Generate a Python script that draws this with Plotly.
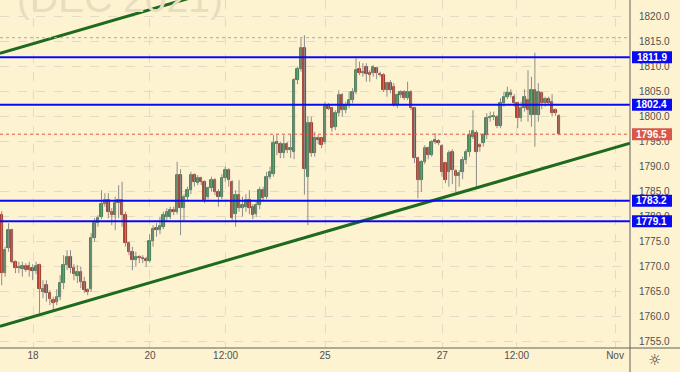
import plotly.graph_objects as go

# ---------------- data ----------------
opens = [1780.3,1768.7,1773.7,1777.3,1771.0,1769.9,1769.6,1770.2,1770.2,1769.8,
         1769.2,1770.3,1765.0,1766.3,1764.8,1763.3,1763.0,1764.0,1766.7,1770.3,
         1771.9,1769.7,1768.2,1769.0,1767.0,1765.3,1765.5,1775.7,1778.7,1780.0,
         1782.5,1783.3,1781.0,1780.3,1782.7,1783.3,1780.3,1774.7,1773.0,1771.3,
         1772.0,1771.8,1771.5,1771.2,1775.1,1777.7,1777.3,1778.0,1780.0,1780.0,
         1781.3,1781.0,1788.3,1781.7,1784.0,1785.3,1788.3,1786.7,1787.7,1787.0,
         1784.0,1785.7,1787.3,1785.0,1784.0,1787.7,1789.3,1787.0,1780.5,1784.3,
         1781.7,1782.0,1783.3,1782.0,1780.5,1782.3,1785.3,1784.0,1788.0,1788.5,
         1794.9,1794.5,1792.7,1794.5,1793.3,1793.0,1807.3,1809.5,1813.8,1788.0,
         1798.7,1792.7,1795.7,1795.7,1795.0,1802.3,1801.7,1798.0,1800.7,1804.3,
         1801.3,1802.3,1803.3,1805.0,1809.5,1808.8,1809.9,1808.8,1808.7,1809.7,
         1808.6,1808.3,1805.3,1806.7,1806.0,1802.3,1804.3,1805.0,1803.7,1805.0,
         1801.7,1791.7,1787.3,1791.0,1793.7,1792.3,1795.3,1795.1,1794.1,1790.8,
         1789.0,1793.0,1789.1,1788.1,1789.0,1791.3,1793.0,1796.0,1796.8,1794.3,
         1794.7,1796.3,1799.7,1800.0,1799.9,1798.1,1802.7,1804.0,1804.7,1804.0,
         1802.7,1799.7,1801.7,1803.3,1800.3,1805.3,1800.3,1804.7,1802.7,1803.5,
         1803.0,1801.3,1800.1]
highs = [1781.1,1774.0,1778.7,1777.6,1771.3,1771.0,1771.0,1770.7,1771.0,1770.5,
         1771.0,1770.6,1767.3,1767.3,1765.3,1764.0,1765.5,1768.3,1772.3,1773.3,
         1773.3,1770.5,1770.3,1770.0,1768.0,1765.7,1776.7,1779.7,1780.3,1785.3,
         1784.7,1784.7,1781.7,1784.0,1786.3,1787.0,1781.0,1775.0,1774.0,1773.0,
         1772.3,1772.3,1772.0,1776.5,1778.3,1778.7,1780.0,1781.0,1781.7,1782.0,
         1782.0,1791.0,1789.5,1784.5,1786.0,1789.0,1788.7,1788.3,1788.0,1787.3,
         1786.0,1788.0,1787.7,1785.5,1788.5,1790.0,1789.7,1787.3,1785.3,1787.3,
         1784.0,1784.5,1785.3,1782.5,1783.0,1786.0,1786.0,1789.0,1790.0,1796.3,
         1796.3,1795.0,1796.3,1795.0,1796.5,1807.7,1810.0,1815.7,1816.3,1800.0,
         1800.0,1797.0,1796.3,1796.0,1803.0,1802.7,1802.0,1801.3,1805.3,1804.7,
         1803.0,1805.0,1805.7,1811.7,1811.0,1810.7,1810.7,1809.3,1810.3,1810.0,
         1809.0,1808.7,1807.0,1807.3,1806.7,1804.7,1805.3,1805.3,1807.0,1805.3,
         1802.0,1792.0,1791.3,1794.3,1794.0,1795.3,1796.7,1795.5,1794.5,1791.0,
         1793.3,1793.5,1789.5,1789.3,1792.0,1793.5,1797.3,1801.3,1797.3,1794.7,
         1796.7,1800.7,1801.0,1801.0,1800.3,1803.7,1805.0,1806.0,1805.5,1804.5,
         1803.0,1803.0,1805.5,1809.3,1808.0,1812.8,1806.7,1805.0,1804.0,1804.0,
         1804.5,1801.7,1800.5]
lows = [1766.3,1768.0,1773.0,1770.7,1768.7,1768.7,1768.0,1769.0,1768.0,1767.3,
        1768.5,1760.7,1763.7,1763.0,1762.3,1761.3,1762.3,1763.3,1765.5,1769.3,
        1768.7,1767.3,1766.7,1765.7,1764.7,1764.3,1765.0,1775.0,1778.0,1779.5,
        1782.0,1779.7,1778.3,1777.3,1779.7,1778.0,1774.0,1772.3,1769.3,1770.0,
        1770.7,1770.7,1770.0,1770.8,1774.0,1776.0,1776.5,1777.5,1779.0,1779.5,
        1780.3,1780.5,1776.3,1779.3,1783.0,1784.5,1786.0,1786.3,1786.3,1782.7,
        1783.5,1785.0,1784.3,1782.0,1783.5,1787.0,1786.0,1779.3,1778.0,1781.0,
        1780.0,1781.0,1780.5,1779.5,1780.0,1781.5,1783.0,1783.5,1787.5,1788.0,
        1792.3,1791.7,1791.7,1792.7,1791.7,1791.5,1806.5,1809.0,1784.4,1778.3,
        1792.0,1792.0,1794.5,1793.7,1794.5,1801.3,1797.0,1797.3,1800.0,1800.0,
        1800.7,1801.7,1802.7,1804.5,1808.3,1808.0,1807.0,1807.0,1808.0,1807.5,
        1808.0,1805.0,1804.0,1804.7,1802.0,1801.7,1803.7,1803.3,1803.3,1801.3,
        1790.7,1783.7,1785.0,1790.5,1791.5,1792.0,1794.5,1794.3,1788.0,1786.7,
        1786.0,1786.5,1785.0,1786.0,1787.5,1790.5,1792.0,1795.5,1786.0,1793.0,
        1794.0,1795.5,1799.0,1799.3,1797.7,1797.7,1802.0,1803.5,1803.8,1802.0,
        1797.7,1799.0,1801.0,1799.0,1798.0,1794.0,1799.0,1801.5,1802.0,1802.3,
        1800.0,1800.2,1796.3]
closes = [1768.7,1773.3,1777.3,1771.0,1769.7,1769.7,1770.2,1769.4,1769.3,1769.2,
          1770.1,1765.5,1765.6,1764.7,1763.5,1762.7,1764.0,1766.7,1770.3,1771.9,
          1769.7,1768.5,1769.0,1767.0,1765.3,1765.0,1775.7,1778.7,1779.7,1782.5,
          1783.3,1781.0,1780.3,1782.7,1783.3,1780.3,1774.7,1773.0,1771.3,1772.0,
          1771.7,1771.6,1771.2,1775.1,1777.5,1777.3,1778.1,1780.3,1781.0,1781.3,
          1781.0,1788.3,1781.7,1784.0,1785.3,1788.3,1787.0,1787.7,1787.0,1783.3,
          1785.7,1787.3,1785.0,1784.0,1787.7,1789.3,1787.3,1779.7,1784.3,1781.7,
          1782.3,1783.3,1781.7,1780.3,1782.3,1785.3,1783.7,1788.0,1789.0,1794.7,
          1794.5,1792.7,1794.5,1793.3,1793.8,1807.3,1809.5,1813.8,1789.5,1798.7,
          1792.7,1795.7,1795.3,1794.3,1802.3,1801.5,1797.7,1800.7,1804.3,1801.3,
          1802.3,1803.3,1805.0,1809.3,1808.8,1808.9,1808.5,1808.3,1809.9,1808.8,
          1808.4,1805.3,1806.7,1805.3,1802.3,1804.3,1805.0,1803.7,1805.0,1801.7,
          1791.7,1787.3,1791.0,1793.7,1792.3,1795.0,1794.9,1794.8,1789.0,1787.3,
          1792.7,1789.3,1788.1,1788.8,1791.3,1793.0,1796.3,1797.2,1793.0,1793.9,
          1796.3,1799.7,1800.0,1800.1,1798.1,1802.7,1804.0,1804.7,1804.3,1802.7,
          1799.7,1801.7,1804.0,1801.3,1805.3,1800.3,1805.0,1802.7,1803.5,1802.8,
          1800.7,1800.7,1796.5]

x_tick_vals = [9.1, 43.1, 65.1, 94.0, 128.1, 149.7, 178.3]
x_tick_text = ["18", "20", "12:00", "25", "27", "12:00", "Nov"]
y_tick_vals = [1755, 1760, 1765, 1770, 1775, 1780, 1785, 1790, 1795, 1800,
               1805, 1810, 1815, 1820]

levels = [1811.9, 1802.4, 1783.2, 1779.1]      # blue horizontal levels
last_price = 1796.5
session_high = 1815.8

trend_x = [-0.5, 182.7]
trend_lower = [1758.1, 1794.7]
trend_upper = [1812.7, 1849.3]

x_range = [-0.494, 182.65]
y_range = [1753.74, 1823.34]

# ---------------- styling ----------------
BG = "#FEF3D1"
GRID = "#E2DCC6"
UP_FILL, UP_LINE = "#4E9062", "#2F6A40"
DN_FILL, DN_LINE = "#BF4130", "#8A2A1E"
WICK = "#8C8C8C"
BLUE = "#0A0AF2"
TREND = "#1E6A1E"
TXT = "#505050"

n = len(opens)
idx = list(range(n))

wx, wy = [], []
for i in idx:
    wx += [i, i, None]
    wy += [lows[i], highs[i], None]

bases, heights, fills, lines = [], [], [], []
for i in idx:
    lo = min(opens[i], closes[i])
    hi = max(opens[i], closes[i])
    h = max(hi - lo, 0.14)
    bases.append(lo)
    heights.append(h)
    up = closes[i] >= opens[i]
    fills.append(UP_FILL if up else DN_FILL)
    lines.append(UP_LINE if up else DN_LINE)

fig = go.Figure()

fig.add_trace(go.Scatter(x=wx, y=wy, mode="lines",
                         line=dict(color=WICK, width=1),
                         hoverinfo="skip", showlegend=False))
fig.add_trace(go.Bar(x=idx, y=heights, base=bases, width=0.72,
                     marker=dict(color=fills, line=dict(color=lines, width=0.8)),
                     hoverinfo="skip", showlegend=False))
fig.add_trace(go.Scatter(x=trend_x, y=trend_lower, mode="lines",
                         line=dict(color=TREND, width=3),
                         hoverinfo="skip", showlegend=False))
fig.add_trace(go.Scatter(x=trend_x, y=trend_upper, mode="lines",
                         line=dict(color=TREND, width=3),
                         hoverinfo="skip", showlegend=False))

shapes = []
shapes.append(dict(type="line", xref="paper", yref="y", x0=0, x1=1,
                   y0=session_high, y1=session_high,
                   line=dict(color="#AAAAAA", width=1, dash="dot")))
shapes.append(dict(type="line", xref="paper", yref="y", x0=0, x1=1,
                   y0=last_price, y1=last_price,
                   line=dict(color="#E0553F", width=1, dash="dot")))
for lv in levels:
    shapes.append(dict(type="line", xref="paper", yref="y", x0=0, x1=1,
                       y0=lv, y1=lv, line=dict(color=BLUE, width=2)))
shapes.append(dict(type="line", xref="paper", yref="paper", x0=1, x1=1,
                   y0=-0.08, y1=1, line=dict(color="#5F5F5F", width=1)))
shapes.append(dict(type="line", xref="paper", yref="paper", x0=0, x1=1.08,
                   y0=0, y1=0, line=dict(color="#5F5F5F", width=1)))

annotations = []
box_x0, box_x1 = 632 / 630, 672 / 630
for lv in levels:
    shapes.append(dict(type="rect", xref="paper", yref="y", x0=box_x0, x1=box_x1,
                       y0=lv - 1.2, y1=lv + 1.2, fillcolor=BLUE,
                       line=dict(width=0), layer="above"))
    annotations.append(dict(xref="paper", yref="y", x=(box_x0 + box_x1) / 2, y=lv,
                            text=f"{lv:.1f}", showarrow=False,
                            font=dict(family="Liberation Sans", size=10,
                                      color="white", weight="bold"),
                            xanchor="center", yanchor="middle"))
shapes.append(dict(type="rect", xref="paper", yref="y", x0=box_x0, x1=box_x1,
                   y0=last_price - 1.2, y1=last_price + 1.2, fillcolor="#D9574A",
                   line=dict(width=0), layer="above"))
annotations.append(dict(xref="paper", yref="y", x=(box_x0 + box_x1) / 2, y=last_price,
                        text=f"{last_price:.1f}", showarrow=False,
                        font=dict(family="Liberation Sans", size=10,
                                  color="white", weight="bold"),
                        xanchor="center", yanchor="middle"))
annotations.append(dict(xref="paper", yref="paper", x=15 / 630, y=1 - 22 / 348,
                        text="(DEC 2021)", showarrow=False,
                        font=dict(family="Liberation Sans", size=39, color="#E8DEBF"),
                        xanchor="left", yanchor="bottom"))
annotations.append(dict(xref="paper", yref="paper", x=654 / 630, y=-12 / 348,
                        text="☼", showarrow=False,
                        font=dict(family="DejaVu Sans", size=15, color="#333333"),
                        xanchor="center", yanchor="middle"))

fig.update_layout(
    width=680, height=372,
    margin=dict(l=0, r=50, t=0, b=24),
    paper_bgcolor=BG, plot_bgcolor=BG,
    showlegend=False, hovermode=False,
    shapes=shapes, annotations=annotations,
    bargap=0,
)
fig.update_xaxes(range=x_range, tickvals=x_tick_vals, ticktext=x_tick_text,
                 showgrid=True, gridcolor=GRID, griddash="dash", gridwidth=1,
                 zeroline=False, showline=False, ticks="",
                 tickfont=dict(family="Liberation Sans", size=10, color=TXT))
fig.update_yaxes(range=y_range, side="right", tickvals=y_tick_vals,
                 ticktext=[f"{v:.1f}" for v in y_tick_vals],
                 showgrid=True, gridcolor=GRID, griddash="dash", gridwidth=1,
                 zeroline=False, showline=False, ticks="", ticklabelstandoff=8,
                 tickfont=dict(family="Liberation Sans", size=10, color=TXT))

fig.write_html("out.html", config={"displayModeBar": False},
               post_script="document.body.style.margin='0';document.body.style.overflow='hidden';")
